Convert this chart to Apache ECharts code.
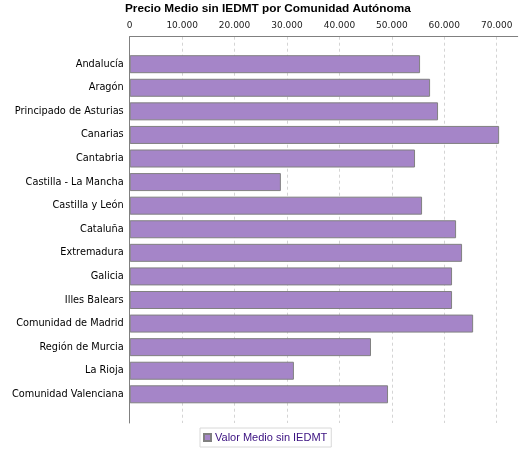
<!DOCTYPE html>
<html>
<head>
<meta charset="utf-8">
<script src="https://cdn.jsdelivr.net/npm/echarts@6/dist/echarts.min.js"></script>
<style>html,body{margin:0;padding:0;background:#fff}#c{width:525px;height:450px}</style>
</head>
<body>
<div id="c"></div>
<script>
var categories = ["Andalucía","Aragón","Principado de Asturias","Canarias","Cantabria","Castilla - La Mancha","Castilla y León","Cataluña","Extremadura","Galicia","Illes Balears","Comunidad de Madrid","Región de Murcia","La Rioja","Comunidad Valenciana"];
var valorMedio = [55380, 57290, 58810, 70460, 54420, 28830, 55760, 62250, 63390, 61480, 61480, 65500, 46020, 31320, 49270];
var xTicks = [0, 10000, 20000, 30000, 40000, 50000, 60000, 70000];
var seriesName = "Valor Medio sin IEDMT";
var chartTitle = "Precio Medio sin IEDMT por Comunidad Autónoma";

var xMax = 74000;
function fmt(v){ return String(v).replace(/\B(?=(\d{3})+(?!\d))/g, "."); }

var chart = echarts.init(document.getElementById('c'), null, {renderer:'canvas'});
chart.setOption({
  animation: false,
  backgroundColor: '#ffffff',
  title: {
    text: chartTitle, left: 120, top: -2,
    textStyle: {fontFamily: 'Liberation Sans', fontSize: 11.8, fontWeight: 'bold', color: '#000'}
  },
  legend: {
    data: [seriesName], left: 200, top: 428, orient: 'horizontal',
    icon: 'rect',
    itemWidth: 7, itemHeight: 7, itemGap: 4,
    padding: [4, 4, 4, 3],
    borderColor: '#d8d8d8', borderWidth: 1,
    textStyle: {fontFamily: 'Liberation Sans', fontSize: 11, color: '#3a1080', padding:[0,0,0,-1]}
  },
  grid: [
    {left: 129.7, right: 7.3, top: 36.7, bottom: 27, containLabel: false},
    {left: 129.7, right: 7.3, top: 52.4, bottom: 43.9, containLabel: false}
  ],
  xAxis: [
    {gridIndex: 0, type: 'value', position: 'top', min: 0, max: xMax, interval: 10000,
     axisLine: {show: true, onZero: false, lineStyle: {color: '#808080', width: 1}},
     axisTick: {show: false},
     axisLabel: {show: true, margin: 7, fontFamily: 'DejaVu Sans', fontSize: 9, color: '#222',
       formatter: function(v){ return xTicks.indexOf(v) >= 0 ? fmt(v) : ''; }, showMaxLabel: false},
     splitLine: {show: true, showMaxLine: false, lineStyle: {color: '#d4d4d4', type: [3, 3], width: 1}}},
    {gridIndex: 1, type: 'value', min: 0, max: xMax, show: false}
  ],
  yAxis: [
    {gridIndex: 0, type: 'value', min: 0, max: 1, position: 'left',
     axisLine: {show: true, onZero: false, lineStyle: {color: '#808080', width: 1}},
     axisTick: {show: false}, axisLabel: {show: false}, splitLine: {show: false}},
    {gridIndex: 1, type: 'category', data: categories, inverse: true,
     axisLine: {show: false}, axisTick: {show: false}, splitLine: {show: false},
     axisLabel: {margin: 6, fontFamily: 'DejaVu Sans', fontSize: 9.75, color: '#000'}}
  ],
  series: [{
    name: seriesName, type: 'bar', xAxisIndex: 1, yAxisIndex: 1,
    data: valorMedio, barWidth: 18,
    itemStyle: {color: '#A585C8', borderColor: '#808080', borderWidth: 1}
  }]
});
</script>
</body>
</html>
